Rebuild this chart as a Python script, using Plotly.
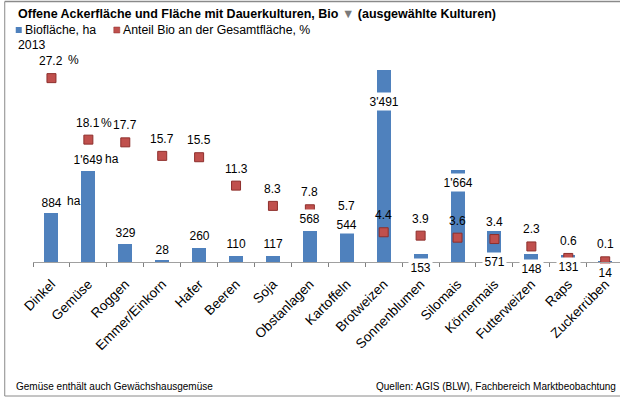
import plotly.graph_objects as go

categories = ["Dinkel", "Gemüse", "Roggen", "Emmer/Einkorn", "Hafer", "Beeren", "Soja",
              "Obstanlagen", "Kartoffeln", "Brotweizen", "Sonnenblumen", "Silomais",
              "Körnermais", "Futterweizen", "Raps", "Zuckerrüben"]
area_ha = [884, 1649, 329, 28, 260, 110, 117, 568, 544, 3491, 153, 1664, 571, 148, 131, 14]
share_pct = [27.2, 18.1, 17.7, 15.7, 15.5, 11.3, 8.3, 7.8, 5.7, 4.4, 3.9, 3.6, 3.4, 2.3, 0.6, 0.1]

# label placement relative to bar top, in px (positive = up)
bar_label_shift = [11, 12, 11, 11, 12, 12, 12, 12, 8, -31, -14, -12, -31, -15, -12, -11]

FONT = "Liberation Sans, Arial, sans-serif"
W, H = 620, 420
L, T, BASE = 33.25, 50, 262
PW = W - L
PH = BASE - T
CAT = 36.9
HA_PX = 0.055      # px per ha
PCT_PX = 6.76      # px per %


def px_x(px):
    return (px - L) / PW


def px_y(py):
    return (BASE - py) / PH


def fmt(v):
    return f"{v:,}".replace(",", "'")


LBL = dict(family=FONT, size=12, color="#000")

fig = go.Figure()
fig.add_trace(go.Bar(x=categories, y=area_ha, width=0.38, marker_color="#4F81BD",
                     marker_line_width=0, name="Biofläche, ha", hoverinfo="x+y"))
fig.add_trace(go.Scatter(x=categories, y=share_pct, yaxis="y2", mode="markers",
                         marker=dict(symbol="square", size=9, color="#C0504D",
                                     line=dict(color="#8E2F2C", width=1)),
                         cliponaxis=False, name="Anteil Bio an der Gesamtfläche, %"))

ann = []
for c, v, s in zip(categories, area_ha, bar_label_shift):
    ann.append(dict(x=c, y=v, xref="x", yref="y", yshift=s, text=fmt(v), showarrow=False,
                    bgcolor="white", borderpad=1.5, font=LBL))
# unit labels
ann.append(dict(x=categories[0], y=area_ha[0], xref="x", yref="y", yshift=bar_label_shift[0] + 1,
                xshift=14, xanchor="left", text="ha", showarrow=False, font=LBL))
ann.append(dict(x=categories[1], y=area_ha[1], xref="x", yref="y", yshift=bar_label_shift[1],
                xshift=15, xanchor="left", text="ha", showarrow=False, font=LBL))
for c, v in zip(categories, share_pct):
    ann.append(dict(x=c, y=v, xref="x", yref="y2", yshift=17, text=f"{v:.1f}", showarrow=False,
                    font=LBL))
ann.append(dict(x=categories[0], y=share_pct[0], xref="x", yref="y2", yshift=18, xshift=15,
                xanchor="left", text="%", showarrow=False, font=LBL))
ann.append(dict(x=categories[1], y=share_pct[1], xref="x", yref="y2", yshift=17, xshift=11,
                xanchor="left", text="%", showarrow=False, font=LBL))

# header texts
ann.append(dict(xref="paper", yref="paper", x=px_x(16), y=px_y(14), xanchor="left", yanchor="middle",
                showarrow=False,
                text="<b>Offene Ackerfläche und Fläche mit Dauerkulturen, Bio "
                     "<span style='color:#7a7a7a'>▼</span> (ausgewählte Kulturen)</b>",
                font=dict(family=FONT, size=12.5, color="#000")))
ann.append(dict(xref="paper", yref="paper", x=px_x(23), y=px_y(30), xanchor="left", yanchor="middle",
                showarrow=False, text="Biofläche, ha", font=dict(family=FONT, size=12.3, color="#000")))
ann.append(dict(xref="paper", yref="paper", x=px_x(121), y=px_y(30), xanchor="left", yanchor="middle",
                showarrow=False, text="Anteil Bio an der Gesamtfläche, %",
                font=dict(family=FONT, size=12.3, color="#000")))
ann.append(dict(xref="paper", yref="paper", x=px_x(16), y=px_y(45), xanchor="left", yanchor="middle",
                showarrow=False, text="2013", font=dict(family=FONT, size=12.3, color="#000")))
# footer
ann.append(dict(xref="paper", yref="paper", x=px_x(14), y=px_y(386), xanchor="left", yanchor="middle",
                showarrow=False, text="Gemüse enthält auch Gewächshausgemüse",
                font=dict(family=FONT, size=10, color="#000")))
ann.append(dict(xref="paper", yref="paper", x=px_x(618), y=px_y(386), xanchor="right", yanchor="middle",
                showarrow=False, text="Quellen: AGIS (BLW), Fachbereich Marktbeobachtung",
                font=dict(family=FONT, size=10, color="#000")))

shapes = [
    dict(type="rect", xref="paper", yref="paper", x0=px_x(16), x1=px_x(22), y0=px_y(27), y1=px_y(33),
         fillcolor="#4F81BD", line=dict(width=0)),
    dict(type="rect", xref="paper", yref="paper", x0=px_x(114), x1=px_x(120), y0=px_y(27), y1=px_y(33),
         fillcolor="#C0504D", line=dict(color="#8E2F2C", width=0.5)),
    # frame
    dict(type="line", xref="paper", yref="paper", x0=px_x(5), x1=px_x(620), y0=px_y(1.5), y1=px_y(1.5),
         line=dict(color="#8a8a8a", width=1.5)),
    dict(type="line", xref="paper", yref="paper", x0=px_x(5), x1=px_x(5), y0=px_y(1.5), y1=px_y(396),
         line=dict(color="#8a8a8a", width=1)),
    dict(type="line", xref="paper", yref="paper", x0=px_x(5), x1=px_x(620), y0=px_y(396), y1=px_y(396),
         line=dict(color="#8a8a8a", width=1)),
]

fig.update_layout(
    width=W, height=H,
    margin=dict(l=L, r=0, t=T, b=H - BASE, pad=0),
    paper_bgcolor="white", plot_bgcolor="white",
    showlegend=False,
    bargap=0,
    xaxis=dict(type="category", range=[-0.5, -0.5 + PW / CAT], showline=True, linecolor="#A0A0A0",
               linewidth=1, ticks="outside", tickson="boundaries", ticklen=4, tickcolor="#808080",
               ticklabelstandoff=8,
               tickangle=-45, tickfont=dict(family=FONT, size=13.5, color="#000"), showgrid=False,
               zeroline=False, automargin=False, fixedrange=True),
    yaxis=dict(range=[0, PH / HA_PX], visible=False, fixedrange=True),
    yaxis2=dict(range=[0, PH / PCT_PX], overlaying="y", visible=False, fixedrange=True),
    annotations=ann,
    shapes=shapes,
)

fig.write_html("out.html", config={"displayModeBar": False},
               post_script="document.body.style.margin='0px';"
                           "document.documentElement.style.overflow='hidden';")
